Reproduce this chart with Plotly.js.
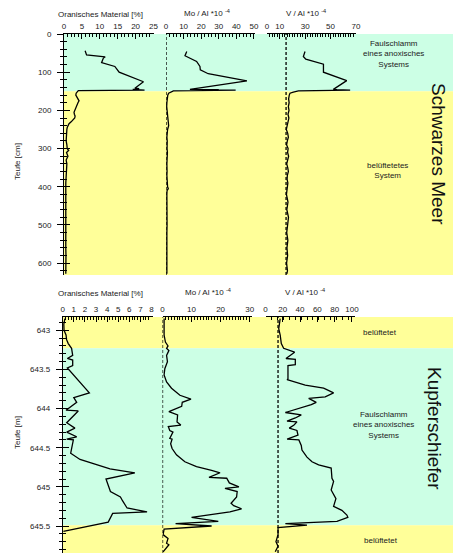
<!DOCTYPE html>
<html>
<head>
<meta charset="utf-8">
<script src="https://cdn.plot.ly/plotly-3.0.1.min.js"></script>
<style>html,body{margin:0;padding:0;background:#fff;}#chart{width:462px;height:553px;}</style>
</head>
<body>
<div id="chart"></div>
<script>
// ---------- Schwarzes Meer (depth in cm) ----------
const bsOrgDepth = [44,55,60,63,75,85,100,125,142,143,145,146,147,148,150,155,160,165,170,175,180,185,190,195,200,205,210,215,220,225,230,235,240,245,250,260,270,280,290,300,305,310,320,330,340,350,360,370,380,390,400,420,440,460,480,500,520,540,560,580,600,620,628];
const bsOrg      = [5.9,6.3,11.5,11.0,10.5,14.2,15.4,22.2,19.8,21.0,19.2,20.5,22.5,4.0,3.8,3.4,3.3,3.6,4.1,4.2,3.9,3.7,3.4,3.2,3.0,2.8,2.9,3.1,3.0,2.6,2.0,1.4,1.1,0.9,0.8,0.7,0.75,0.6,0.8,0.9,1.3,0.7,1.1,0.6,0.8,0.7,0.6,0.5,0.6,0.5,0.5,0.45,0.5,0.55,0.5,0.5,0.45,0.5,0.5,0.55,0.5,0.5,0.5];

const bsMoDepth = [46,57,72,85,94,104,123,145,146,146.5,147,149,152,155,160,165,170,175,180,190,200,210,220,230,240,250,260,270,280,290,300,310,320,330,340,350,360,370,380,390,400,405,410,420,440,460,480,500,520,540,560,580,600,620,628];
const bsMo      = [11.8,10.8,17.4,19.3,19.5,24.0,46.0,13.6,30,15,39.6,4.2,2.3,1.5,1.0,0.8,0.6,0.7,0.5,0.4,0.6,0.5,0.7,1.2,1.5,0.9,0.6,0.5,0.7,0.5,0.6,0.8,0.5,0.6,0.5,0.7,0.6,0.5,0.6,0.5,0.9,1.3,0.6,0.5,0.6,0.5,0.4,0.6,0.5,0.5,0.6,0.5,0.5,0.6,0.5];

const bsVDepth = [46,59,66,79,100,122,145,146,147,149,152,155,160,170,180,190,200,210,220,230,240,250,260,270,280,290,300,310,320,330,340,350,360,370,380,390,400,420,440,460,480,500,520,540,560,580,600,620,628];
const bsV      = [29.9,28.6,30.5,44.4,44.4,62.7,52.2,55,65.4,24.7,20.7,18.1,17.5,17,17.4,16.8,17.3,16.5,17.2,16.4,15.8,15.2,16.3,16.8,16,15.4,16.6,16.2,17,16.1,15.5,16.3,16.8,16,15.8,16.4,16,15.3,16.5,15.6,16.9,16,15.5,16.4,15.7,16.2,15.4,16.1,15.6];

const bsZones = {anoxic:[0,150], oxic:[150,631]};
const bsMoRef = 0, bsVRef = 15;

// ---------- Kupferschiefer (depth in m) ----------
const ksOrgDepth = [642.85,642.92,643.00,643.06,643.12,643.17,643.23,643.32,643.36,643.38,643.45,643.48,643.80,643.86,643.92,644.02,644.03,644.18,644.25,644.30,644.36,644.39,644.40,644.57,644.65,644.77,644.82,644.90,645.06,645.13,645.18,645.27,645.32,645.34,645.45,645.57];
const ksOrg      = [0.2,0.1,0.12,0.3,0.35,0.5,0.8,0.9,0.42,0.9,0.9,0.42,2.4,1.0,1.26,0.3,1.4,0.36,1.1,0.36,1.26,0.36,0.96,0.72,1.56,4.26,6.5,3.9,4.3,5.2,5.4,5.8,7.6,4.5,4.1,0.06];

const ksMoDepth = [642.85,642.95,643.06,643.15,643.20,643.23,643.26,643.32,643.40,643.49,643.57,643.66,643.74,643.83,643.88,643.92,643.97,644.04,644.08,644.17,644.21,644.23,644.28,644.30,644.32,644.38,644.39,644.45,644.51,644.59,644.68,644.74,644.79,644.82,644.88,644.89,644.95,645.00,645.02,645.06,645.13,645.21,645.24,645.28,645.32,645.39,645.44,645.47,645.50,645.54,645.61,645.66,645.72,645.74,645.83];
const ksMo      = [0.55,0.5,0.55,1.0,1.9,1.4,2.2,1.4,1.7,0.8,0.55,1.4,3.1,6.0,9.8,6.8,6.6,2.2,5.2,5.0,6.3,2.0,2.5,3.6,3.3,2.5,3.3,2.8,3.3,4.8,7.7,11.7,16.9,19.8,16.0,22.1,23.0,26.3,21.5,25.7,25.5,23.6,24.5,27.2,23.2,10.0,19.2,4.5,16.9,0.55,0.2,1.9,1.4,2.2,0.2];

const ksVDepth = [642.85,642.98,643.06,643.17,643.23,643.25,643.28,643.36,643.37,643.44,643.45,643.62,643.63,643.70,643.74,643.80,643.85,643.87,643.92,643.95,644.00,644.05,644.08,644.12,644.16,644.17,644.21,644.25,644.28,644.34,644.39,644.40,644.47,644.53,644.62,644.68,644.72,644.76,644.89,644.93,645.04,645.15,645.25,645.30,645.36,645.39,645.44,645.47,645.49,645.51,645.52,645.61,645.70,645.76,645.83];
const ksV      = [17,15.3,17,18.3,21,26,33.7,23.7,34.5,34.5,26,26,25,46,67.3,78.8,69.1,50,58.7,53,38.4,23,41.4,34.5,24.9,36.4,33,27.5,36.4,37.6,25,38.6,41.4,42.2,48,53.8,61.5,76,76.9,78.8,76,81.5,78.8,88.4,94.2,95.3,82.7,23,48,17,14.5,14.5,12.1,14.5,11.3];

const ksZones = {oxicTop:[642.83,643.23], anoxic:[643.23,645.49], oxicBottom:[645.49,645.85]};
const ksMoRef = 0, ksVRef = 14.5;

// ---------- tick labels / titles ----------
const titleOrg = "Oranisches Material [%]";
const titleMo  = "Mo / Al *10 <sup>-4</sup>";
const titleV   = "V / Al *10 <sup>-4</sup>";
const bsVTicks = [0,10,30,50,70];

// ---------- layout helpers ----------
const W = 462, H = 553;
const px = v => v / W;
const py = v => 1 - v / H;
const MINT = '#ccffe5', YEL = '#ffff99';
const tfont = {family:'Liberation Sans, Arial, sans-serif', size:8, color:'#222'};

function xax(l, r, range, dtick, minorDt, anchor, extra) {
  return Object.assign({
    domain:[px(l), px(r)], range:range, anchor:anchor, side:'top',
    showline:true, linecolor:'#000', linewidth:1, mirror:false,
    ticks:'inside', ticklen:5, tickcolor:'#000', tickwidth:1,
    dtick:dtick, tick0:0, tickfont:tfont, showgrid:false, zeroline:false,
    minor:{ticks:'inside', ticklen:3, dtick:minorDt, tick0:0, tickcolor:'#000', showgrid:false},
    fixedrange:true, ticklabelstandoff:1
  }, extra||{});
}

const yTopDom = [py(275), py(34)];
const yBotDom = [0, py(317)];
const yTopRange = [631, 0];
const yBotRange = [645.845, 642.83];

const line = {color:'#000', width:1.3};
const traces = [
  {x:bsOrg, y:bsOrgDepth, xaxis:'x',  yaxis:'y',  mode:'lines', line:line},
  {x:bsMo,  y:bsMoDepth,  xaxis:'x2', yaxis:'y',  mode:'lines', line:line},
  {x:bsV,   y:bsVDepth,   xaxis:'x3', yaxis:'y',  mode:'lines', line:line},
  {x:ksOrg, y:ksOrgDepth, xaxis:'x4', yaxis:'y2', mode:'lines', line:line},
  {x:ksMo,  y:ksMoDepth,  xaxis:'x5', yaxis:'y2', mode:'lines', line:line},
  {x:ksV,   y:ksVDepth,   xaxis:'x6', yaxis:'y2', mode:'lines', line:line}
];

function band(x0, yref, r, color) {
  return {type:'rect', xref:'paper', x0:px(x0), x1:px(453), yref:yref, y0:r[0], y1:r[1],
          fillcolor:color, line:{width:0}, layer:'below'};
}
function dashed(xref, yref, v) {
  return {type:'line', xref:xref, x0:v, x1:v, yref:yref+' domain', y0:0, y1:1,
          line:{color:'#000', width:1.3, dash:'3px,2px'}};
}
const shapes = [
  band(64, 'y', bsZones.anoxic, MINT), band(64, 'y', bsZones.oxic, YEL),
  band(62.7, 'y2', ksZones.oxicTop, YEL), band(62.7, 'y2', ksZones.anoxic, MINT), band(62.7, 'y2', ksZones.oxicBottom, YEL),
  dashed('x2','y',bsMoRef), dashed('x3','y',bsVRef),
  dashed('x5','y2',ksMoRef), dashed('x6','y2',ksVRef)
];

function ann(text, x, y, opts) {
  return Object.assign({text:text, xref:'paper', yref:'paper', x:px(x), y:py(y),
    xanchor:'center', yanchor:'middle', showarrow:false, font:tfont}, opts||{});
}
const bigFont = {family:'Liberation Sans, Arial, sans-serif', size:19, color:'#111'};
const annotations = [
  ann(titleOrg, 100, 14), ann(titleMo, 207, 13), ann(titleV, 306, 13),
  ann(titleOrg, 100, 293), ann(titleMo, 208, 292), ann(titleV, 305, 292),
  ann('Faulschlamm<br>eines anoxisches<br>Systems', 393, 54),
  ann('belüftetetes<br>System', 387, 171),
  ann('belüftetet', 380, 332),
  ann('Faulschlamm<br>eines anoxisches<br>Systems', 383, 425),
  ann('belüftetet', 381, 540),
  ann('Schwarzes Meer', 438, 154, {textangle:90, font:bigFont}),
  ann('Kupferschiefer', 435, 428, {textangle:90, font:bigFont}),
  ann('Teufe [cm]', 17, 162, {textangle:-90}),
  ann('Teufe [m]', 17, 433, {textangle:-90})
];

function yax(dom, range, dtick, tick0, minorDt, anchor, extra) {
  return Object.assign({
    domain:dom, range:range, anchor:anchor, side:'left',
    showline:true, linecolor:'#000', linewidth:1,
    ticks:'outside', ticklen:6, tickcolor:'#000', tickwidth:1,
    dtick:dtick, tick0:tick0, tickfont:tfont, showgrid:false, zeroline:false,
    minor:{ticks:'outside', ticklen:3, dtick:minorDt, tick0:tick0, tickcolor:'#000', showgrid:false},
    fixedrange:true, ticklabelstandoff:4
  }, extra||{});
}

const layout = {
  width:W, height:H, margin:{l:0,r:0,t:0,b:0}, showlegend:false,
  paper_bgcolor:'#fff', plot_bgcolor:'rgba(0,0,0,0)',
  font:tfont,
  xaxis:  xax(64, 154, [0,25.14], 5, 1, 'y'),
  xaxis2: xax(166, 255, [0,50.6], 10, 2, 'y'),
  xaxis3: xax(267, 356, [0,70], 10, 2, 'y', {tickmode:'array', tickvals:bsVTicks}),
  xaxis4: xax(62.7, 152.5, [0,8.09], 1, 0.25, 'y2'),
  xaxis5: xax(162.5, 252, [0,30.8], 10, 1, 'y2'),
  xaxis6: xax(265.5, 354.5, [0,103], 20, 6.87, 'y2'),
  yaxis:  yax(yTopDom, yTopRange, 100, 0, 20, 'x'),
  yaxis3: yax(yTopDom, yTopRange, 100, 0, 20, 'x', {overlaying:'y', ticks:'inside', showticklabels:false,
           minor:{ticks:'inside', ticklen:3, dtick:20, tick0:0, tickcolor:'#000', showgrid:false}}),
  yaxis2: yax(yBotDom, yBotRange, 0.5, 643, 0.1, 'x4'),
  yaxis4: yax(yBotDom, yBotRange, 0.5, 643, 0.1, 'x4', {overlaying:'y2', ticks:'inside', showticklabels:false,
           minor:{ticks:'inside', ticklen:3, dtick:0.1, tick0:643, tickcolor:'#000', showgrid:false}}),
  shapes:shapes, annotations:annotations
};

// invisible traces so the overlay axes (cross ticks) get drawn
traces.push({x:[0], y:[0], xaxis:'x', yaxis:'y3', mode:'markers', marker:{opacity:0}, hoverinfo:'skip'});
traces.push({x:[0], y:[643], xaxis:'x4', yaxis:'y4', mode:'markers', marker:{opacity:0}, hoverinfo:'skip'});

Plotly.newPlot('chart', traces, layout, {staticPlot:true, displayModeBar:false});
</script>
</body>
</html>
